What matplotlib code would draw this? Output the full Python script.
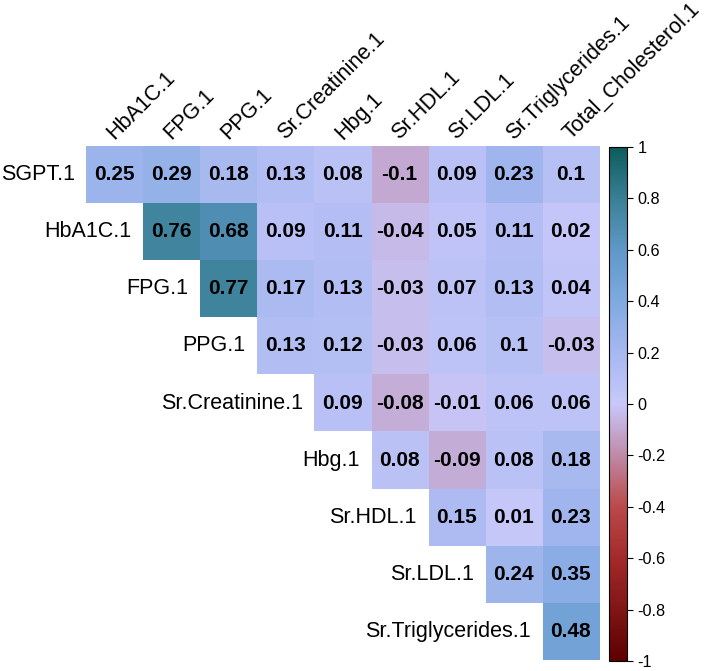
import numpy as np
import matplotlib
matplotlib.use("Agg")
from matplotlib import pyplot as plt
from matplotlib.colors import LinearSegmentedColormap

plt.rcParams['font.family'] = ['Liberation Sans', 'DejaVu Sans']

row_names = ['SGPT.1', 'HbA1C.1', 'FPG.1', 'PPG.1', 'Sr.Creatinine.1',
             'Hbg.1', 'Sr.HDL.1', 'Sr.LDL.1', 'Sr.Triglycerides.1']
col_names = ['HbA1C.1', 'FPG.1', 'PPG.1', 'Sr.Creatinine.1', 'Hbg.1',
             'Sr.HDL.1', 'Sr.LDL.1', 'Sr.Triglycerides.1', 'Total_Cholesterol.1']

sgpt = [0.25, 0.29, 0.18, 0.13, 0.08, -0.1, 0.09, 0.23, 0.1]
hba1c = [0.76, 0.68, 0.09, 0.11, -0.04, 0.05, 0.11, 0.02]
fpg = [0.77, 0.17, 0.13, -0.03, 0.07, 0.13, 0.04]
ppg = [0.13, 0.12, -0.03, 0.06, 0.1, -0.03]
creat = [0.09, -0.08, -0.01, 0.06, 0.06]
hbg = [0.08, -0.09, 0.08, 0.18]
hdl = [0.15, 0.01, 0.23]
ldl = [0.24, 0.35]
trig = [0.48]

rows = [sgpt, hba1c, fpg, ppg, creat, hbg, hdl, ldl, trig]
n = len(col_names)
mat = np.full((n, n), np.nan)
for i, r in enumerate(rows):
    mat[i, i:] = r

cmap = LinearSegmentedColormap.from_list('corr', [
    (0.0, '#5e0000'), (0.2, '#a32a2a'), (0.3, '#bb4a4a'), (0.4, '#bf8aa8'),
    (0.5, '#c8c8fa'), (0.6, '#a6b8f0'), (0.7, '#80aae0'), (0.8, '#5f98c8'),
    (0.9, '#3a8095'), (1.0, '#0c5c5c')])

fig = plt.figure(figsize=(7.09, 6.71), dpi=100)
ax = fig.add_axes([0.1213, 0.0164, 0.7236, 0.766])
im = ax.imshow(np.ma.masked_invalid(mat), cmap=cmap, vmin=-1, vmax=1,
               aspect='auto', extent=(-0.5, n - 0.5, n - 0.5, -0.5))
ax.set_xlim(-0.5, n - 0.5)
ax.set_ylim(n - 0.5, -0.5)
ax.axis('off')

for i in range(n):
    for j in range(i, n):
        ax.text(j, i, '%g' % mat[i, j], ha='center', va='center',
                fontsize=15, fontweight='bold', color='black')
    ax.text(i - 0.7, i, row_names[i], ha='right', va='center',
            fontsize=15.5, color='black', clip_on=False)

for j, name in enumerate(col_names):
    ax.text(j, -0.6, name, ha='left', va='baseline', rotation=45,
            rotation_mode='anchor', fontsize=15.5, color='black', clip_on=False)

cax = fig.add_axes([0.859, 0.0149, 0.0254, 0.766])
cb = fig.colorbar(im, cax=cax)
ticks = np.round(np.arange(-1, 1.01, 0.2), 1)
cb.set_ticks(ticks)
cb.set_ticklabels(['%g' % abs(t) if t == 0 else '%g' % t for t in ticks])
cb.ax.tick_params(labelsize=11.7, length=4, width=0.8)
cb.outline.set_linewidth(0.8)

fig.savefig('out.png', dpi=100)
